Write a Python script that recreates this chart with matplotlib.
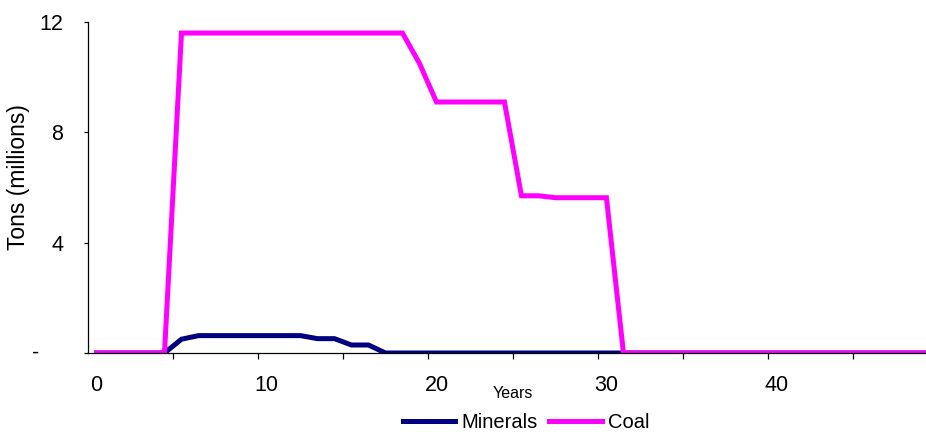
import matplotlib
matplotlib.use("Agg")
import matplotlib.pyplot as plt
import numpy as np

plt.rcParams['font.family'] = ['Liberation Sans', 'DejaVu Sans']

years = list(range(50))
minerals = [0, 0, 0, 0, 0, 0.5, 0.63, 0.63, 0.63, 0.63, 0.63, 0.63, 0.63,
            0.52, 0.52, 0.29, 0.29] + [0] * 33
coal = [0, 0, 0, 0, 0] + [11.6] * 14 + [10.5] + [9.1] * 5 + [5.7, 5.7] + \
       [5.63] * 4 + [0] * 19

x_labels = [0, 10, 20, 30, 40]
y_ticks = [0, 4, 8, 12]
y_labels = ['', '4', '8', '12']

W, H = 926, 434
fig = plt.figure(figsize=(W / 100, H / 100), dpi=100)
ax = fig.add_axes([88 / W, 1 - 353 / H, (W - 88) / W, (353 - 22) / H])

ax.plot(years, minerals, color='#000080', lw=3.6, label='Minerals',
        solid_joinstyle='miter')
ax.plot(years, coal, color='#FF00FF', lw=3.6, label='Coal',
        solid_joinstyle='miter')

ax.set_xlim(-0.5, 48.8)
ax.set_ylim(0, 12)

for s in ['top', 'right']:
    ax.spines[s].set_visible(False)
for s in ['left', 'bottom']:
    ax.spines[s].set_linewidth(0.9)
    ax.spines[s].set_color('black')

ax.set_xticks(x_labels)
ax.set_xticklabels([str(v) for v in x_labels], fontsize=15.5)
ax.set_xticks(np.arange(4.5, 49, 5), minor=True)
ax.tick_params(axis='x', which='major', length=0, pad=16)
ax.tick_params(axis='x', which='minor', length=4.5, width=0.9, direction='out')

ax.set_yticks(y_ticks)
ax.set_yticklabels(y_labels, fontsize=15.5)
ax.tick_params(axis='y', which='major', length=3, width=0.9, pad=15)
ax.annotate('-', xy=(0, 0), xycoords=('axes fraction', 'data'),
            xytext=(-38, 0), textcoords='offset points',
            ha='center', va='center', fontsize=15.5)

fig.text(19 / W, 1 - 177 / H, 'Tons (millions)', rotation=90, fontsize=16.5,
         ha='center', va='center')
fig.text(513 / W, 1 - 393 / H, 'Years', fontsize=11.5, ha='center', va='center')

fig.legend(loc='center', bbox_to_anchor=(526 / W, 1 - 423 / H), ncol=2,
           frameon=False, fontsize=14.5, handlelength=2.6, handletextpad=0.3,
           columnspacing=0.6, borderpad=0, borderaxespad=0)

fig.savefig('out.png', dpi=100)
